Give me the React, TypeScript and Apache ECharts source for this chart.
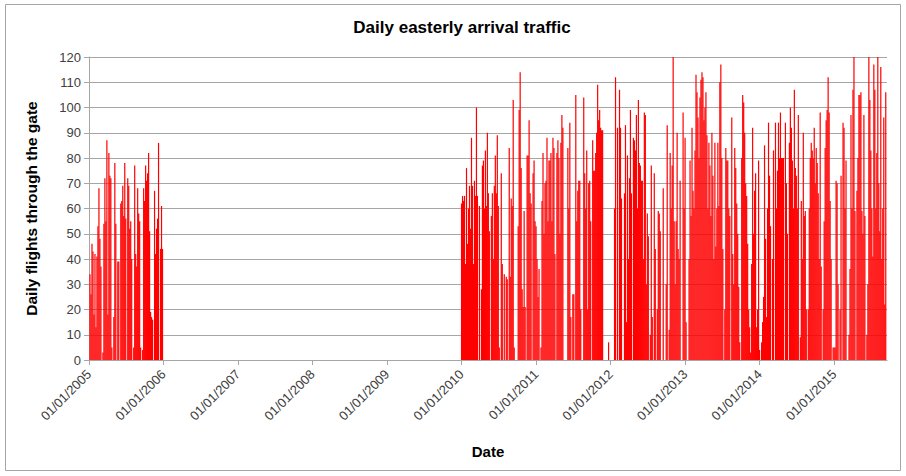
import React, { useEffect, useRef } from "react";
import * as echarts from "echarts";

const TITLE = "Daily easterly arrival traffic";
const Y_NAME = "Daily flights through the gate";
const X_NAME = "Date";
const YEAR_TICKS = [2005, 2006, 2007, 2008, 2009, 2010, 2011, 2012, 2013, 2014, 2015];
const SAMPLES_PER_YEAR = 75;

const V2005 = [0, 34, 26, 46, 43, 18, 42, 13, 41, 53, 68, 48, 37, 0, 3, 54, 72, 55, 87, 18, 82, 73, 72, 5, 0, 17, 78, 54, 0, 39, 39, 0, 62, 63, 69, 57, 78, 56, 0, 72, 69, 52, 55, 40, 0, 5, 77, 42, 37, 68, 58, 55, 5, 0, 4, 68, 63, 77, 71, 74, 82, 51, 19, 17, 16, 0, 67, 42, 52, 56, 86, 0, 44, 61, 44];
const V2010 = [62, 65, 63, 65, 38, 76, 46, 60, 69, 52, 88, 69, 38, 71, 65, 100, 65, 0, 61, 0, 28, 77, 79, 60, 83, 61, 90, 66, 51, 0, 57, 66, 40, 69, 81, 66, 89, 61, 5, 0, 74, 38, 0, 34, 0, 33, 32, 0, 84, 33, 64, 61, 103, 5, 0, 0, 0, 53, 99, 114, 76, 28, 21, 59, 21, 0, 81, 81, 95, 66, 62, 0, 74, 79, 55];
const V2011 = [53, 40, 25, 36, 0, 5, 63, 82, 50, 70, 71, 88, 55, 79, 79, 82, 55, 88, 84, 42, 0, 82, 87, 80, 50, 86, 97, 92, 0, 0, 0, 0, 84, 60, 94, 17, 0, 26, 26, 0, 105, 55, 67, 71, 71, 20, 0, 0, 104, 74, 60, 83, 20, 70, 71, 55, 0, 87, 75, 75, 82, 90, 109, 95, 99, 92, 91, 91, 0, 0, 0, 0, 0, 7, 0];
const V2012 = [0, 0, 0, 0, 60, 112, 0, 92, 0, 107, 92, 64, 0, 0, 66, 93, 15, 81, 40, 72, 99, 66, 0, 88, 87, 83, 97, 60, 103, 78, 77, 71, 71, 40, 98, 97, 30, 58, 49, 0, 10, 77, 17, 0, 74, 44, 0, 20, 59, 58, 51, 0, 0, 68, 0, 0, 30, 93, 0, 12, 82, 60, 77, 120, 55, 30, 55, 90, 44, 40, 71, 0, 0, 98, 60];
const V2013 = [88, 15, 0, 0, 40, 79, 57, 92, 67, 60, 83, 113, 106, 96, 80, 104, 111, 114, 112, 95, 100, 106, 89, 60, 86, 77, 57, 90, 73, 40, 86, 45, 60, 86, 61, 110, 117, 80, 44, 0, 20, 84, 79, 79, 60, 57, 0, 96, 42, 30, 84, 76, 62, 50, 29, 7, 0, 80, 105, 102, 90, 70, 65, 46, 20, 13, 3, 38, 92, 50, 67, 74, 13, 20, 79];
const V2014 = [4, 0, 7, 15, 25, 85, 48, 17, 60, 94, 73, 53, 0, 40, 83, 0, 94, 60, 75, 94, 80, 98, 80, 80, 80, 0, 94, 70, 50, 0, 86, 100, 92, 79, 60, 107, 76, 73, 60, 97, 0, 9, 63, 40, 90, 57, 59, 20, 0, 20, 60, 80, 86, 83, 80, 92, 70, 84, 78, 66, 40, 98, 37, 0, 20, 55, 84, 95, 99, 112, 98, 63, 40, 0, 5];
const V2015 = [5, 5, 71, 70, 30, 0, 20, 73, 0, 94, 92, 60, 79, 0, 0, 10, 36, 97, 60, 107, 120, 59, 0, 67, 80, 105, 105, 106, 59, 50, 97, 57, 0, 10, 30, 120, 103, 83, 60, 41, 117, 107, 60, 82, 120, 70, 51, 116, 40, 60, 96, 22, 106];

const SEGMENTS: [number, number[]][] = [
  [2005, V2005],
  [2010, V2010],
  [2011, V2011],
  [2012, V2012],
  [2013, V2013],
  [2014, V2014],
  [2015, V2015],
];

const FONT = '"Liberation Sans", Arial, sans-serif';

export default function App() {
  const ref = useRef<HTMLDivElement>(null);
  useEffect(() => {
    const chart = echarts.init(ref.current!, null, { renderer: "svg" });
    const data: number[][] = [];
    SEGMENTS.forEach(([yr, vals]) => {
      vals.forEach((v, i) => data.push([yr + i / SAMPLES_PER_YEAR, v]));
    });
    chart.setOption({
      animation: false,
      backgroundColor: "#ffffff",
      graphic: [
        {
          type: "rect",
          shape: { x: 5.5, y: 4.5, width: 895, height: 466 },
          style: { fill: "none", stroke: "#a6a6a6", lineWidth: 1 },
          silent: true,
        },
        {
          type: "text",
          x: 462,
          y: 27,
          style: {
            text: TITLE,
            align: "center",
            verticalAlign: "middle",
            font: `bold 17px ${FONT}`,
            fill: "#000000",
          },
        },
      ],
      grid: { left: 89, right: 19, top: 57, bottom: 116 },
      xAxis: {
        type: "value",
        min: 2005,
        max: 2015.71,
        interval: 1,
        name: X_NAME,
        nameLocation: "middle",
        nameGap: 84,
        nameTextStyle: { fontFamily: FONT, fontWeight: "bold", fontSize: 15, color: "#000" },
        axisLine: { show: true, lineStyle: { color: "#a6a6a6", width: 1 } },
        axisTick: { show: true, length: 5, customValues: YEAR_TICKS, lineStyle: { color: "#a6a6a6" } },
        splitLine: { show: false },
        axisLabel: {
          rotate: 45,
          margin: 12,
          customValues: YEAR_TICKS,
          formatter: (v: number) => "01/01/" + Math.round(v),
          fontFamily: FONT,
          fontSize: 13,
          color: "#404040",
        },
      },
      yAxis: {
        type: "value",
        min: 0,
        max: 120,
        interval: 10,
        name: Y_NAME,
        nameLocation: "middle",
        nameGap: 50,
        nameRotate: 90,
        nameTextStyle: { fontFamily: FONT, fontWeight: "bold", fontSize: 15.5, color: "#000" },
        axisLine: { show: true, lineStyle: { color: "#a6a6a6", width: 1 } },
        axisTick: { show: true, length: 5, lineStyle: { color: "#a6a6a6" } },
        splitLine: { show: true, lineStyle: { color: "#a6a6a6", width: 1 } },
        axisLabel: { fontFamily: FONT, fontSize: 13, color: "#404040", margin: 8 },
      },
      series: [
        {
          type: "bar",
          data,
          barWidth: 1.2,
          itemStyle: { color: "#ff0000" },
          emphasis: { disabled: true },
        },
      ],
    });
    return () => chart.dispose();
  }, []);
  return (
    <div
      ref={ref}
      style={{ position: "absolute", left: 0, top: 0, width: 906, height: 476, background: "#fff" }}
    />
  );
}
